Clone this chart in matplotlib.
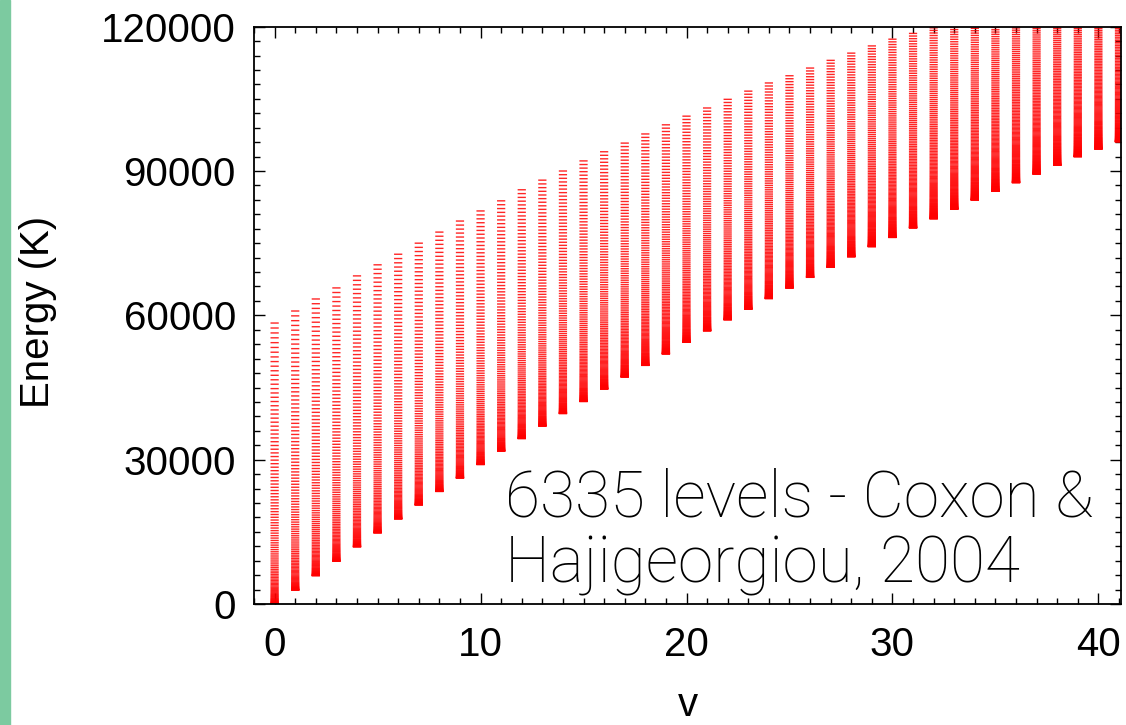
import matplotlib
matplotlib.use("Agg")
import matplotlib.pyplot as plt
import numpy as np
from matplotlib.ticker import MultipleLocator
from matplotlib.patches import Rectangle

# vibrational quantum number of each column
v_levels = list(range(42))

# lowest (J=0) and highest level of each v column, in K
e_bottom = [0, 2900, 5900, 8900, 11900, 14800, 17700, 20600, 23400, 26200,
            29000, 31800, 34400, 37000, 39600, 42100, 44700, 47200, 49600, 52000,
            54400, 56800, 59100, 61300, 63500, 65700, 67900, 70000, 72200, 74300,
            76200, 78200, 80100, 82100, 84000, 85800, 87600, 89400, 91200, 93000,
            94600, 96100]
e_top = [58400, 60900, 63400, 65700, 68200, 70500, 72700, 75000, 77300, 79600,
         81700, 83800, 86100, 88100, 90000, 92100, 94000, 95800, 97700, 99600,
         101400, 103100, 104900, 106600, 108300, 109800, 111400, 113000, 114500, 116000,
         117400, 118600, 120300, 121500, 122700, 123800, 125000, 126100, 127200, 128300,
         129300, 130300]
# number of rotational levels drawn in each column
n_rot = [112, 114, 116, 118, 120, 121, 122, 124, 125, 126,
         127, 128, 129, 130, 131, 132, 133, 134, 135, 136,
         137, 138, 139, 140, 141, 142, 143, 144, 145, 146,
         147, 147, 148, 148, 149, 149, 150, 150, 151, 151,
         152, 152]

label_text = "6335 levels - Coxon &\nHajigeorgiou, 2004"

plt.rcParams['font.family'] = ['Liberation Sans', 'DejaVu Sans']

fig = plt.figure(figsize=(11.26, 7.25), dpi=100)
ax = fig.add_axes([0.2256, 0.1669, 0.7700, 0.7963])

# green slide edge on the left
fig.patches.append(Rectangle((0, 0), 10 / 1126, 1, transform=fig.transFigure,
                             color='#7ccaa0', zorder=0))

# draw every rovibrational level as a short horizontal dash
for v, lo, hi, jmax in zip(v_levels, e_bottom, e_top, n_rot):
    J = np.arange(jmax + 1)
    energies = lo + (hi - lo) * J * (J + 1) / (jmax * (jmax + 1))
    lc = ax.hlines(energies, v - 0.2, v + 0.2, color='#ff0000', lw=1.0, alpha=0.85)
    lc.set_snap(False)

ax.set_xlim(-1.0, 41.1)
ax.set_ylim(0, 120000)
ax.xaxis.set_major_locator(MultipleLocator(10))
ax.xaxis.set_minor_locator(MultipleLocator(1))
ax.yaxis.set_major_locator(MultipleLocator(30000))
ax.yaxis.set_minor_locator(MultipleLocator(3000))
ax.tick_params(which='both', direction='in', top=True, right=True, width=1.0,
               labelsize=29, colors='black')
ax.tick_params(which='major', length=8)
ax.tick_params(which='minor', length=4)
ax.tick_params(axis='y', pad=13)
ax.tick_params(axis='x', pad=16)
for s in ax.spines.values():
    s.set_linewidth(1.3)

fig.text(38 / 1126, (725 - 312) / 725, "Energy (K)", fontsize=29, rotation=90,
         ha='center', va='center')
fig.text(688 / 1126, 1 / 725, "v", fontsize=29, ha='center', va='bottom')

# multi-line text: baseline alignment refers to the last line
fig.text(505 / 1126, (725 - 583) / 725, label_text, fontsize=46,
         family=['Roboto', 'DejaVu Sans'], fontweight='light',
         ha='left', va='baseline', linespacing=1.1)

fig.savefig("out.png", dpi=100)
